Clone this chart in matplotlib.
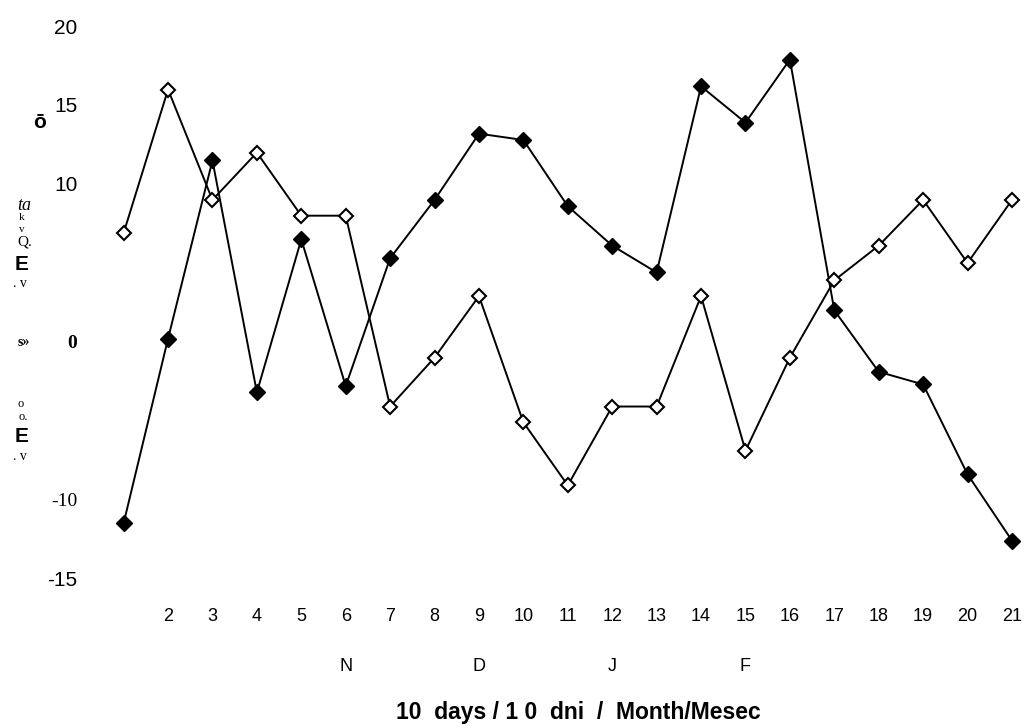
import numpy as np
from matplotlib import pyplot as plt
from matplotlib.transforms import offset_copy

days = list(range(1, 22))
open_vals = [7.0, 16.1, 9.1, 12.1, 8.1, 8.1, -4.0, -0.9, 3.0, -5.0, -9.0,
             -4.0, -4.0, 3.0, -6.8, -0.9, 4.0, 6.2, 9.1, 5.1, 9.1]
filled_vals = [-11.4, 0.3, 11.6, -3.1, 6.6, -2.7, 5.4, 9.1, 13.3, 12.9, 8.7,
               6.2, 4.5, 16.3, 14.0, 18.0, 2.1, -1.8, -2.6, -8.3, -12.5]
xtick_labels = [str(d) for d in days[1:]]
ytick_vals = [20, 15, 10, 0, -10, -15]
ytick_labels = ['20', '15', '10', '0', '-10', '-15']
months = ['N', 'D', 'J', 'F']
month_pos = [6, 9, 12, 15]

W, H = 1030, 726


def px(x, y):
    return x / W, 1 - y / H


fig = plt.figure(figsize=(W / 100, H / 100), dpi=100)
ax = fig.add_axes([110.3 / W, 1 - 580 / H, 915 / W, 552 / H])

ax.plot(days, filled_vals, color='black', lw=1.4, marker='D', ms=8,
        mfc='black', mec='black', clip_on=False, zorder=3)
ax.plot(days, open_vals, color='black', lw=1.4, marker='D', ms=7.5,
        mfc='white', mec='black', mew=1.5, clip_on=False, zorder=4)

ax.set_xlim(0.7, 21.3)
ax.set_ylim(-15, 20)
for s in ax.spines.values():
    s.set_visible(False)
ax.tick_params(length=0)
ax.set_xticks(days[1:])
ax.set_xticklabels(xtick_labels, fontsize=13, family='Liberation Sans')
ax.tick_params(axis='x', pad=20)
ax.set_yticks([])

# y tick labels (mixed fonts, as in the scan)
ytr = offset_copy(ax.get_yaxis_transform(), fig=fig, x=-33, y=0, units='dots')
for val, txt in zip(ytick_vals, ytick_labels):
    serif = val in (0, -10)
    ax.text(0, val, txt, transform=ytr,
            fontsize=14 if serif else 15,
            family='Liberation Serif' if serif else 'Liberation Sans',
            weight='bold' if val == 0 else 'normal',
            ha='right', va='center')

for m, p in zip(months, month_pos):
    ax.text(p, -20.5, m, fontsize=13, family='Liberation Sans',
            ha='center', va='center')

# garbled rotated axis label pieces from the source
bits = [(40, 122, 'ō', 'Liberation Sans', 'bold', 'normal', 15),
        (24, 205, 'ta', 'Liberation Serif', 'normal', 'italic', 13),
        (22, 218, 'k', 'Liberation Serif', 'normal', 'normal', 8),
        (22, 229, 'v', 'Liberation Serif', 'normal', 'normal', 8),
        (25, 242, 'Q.', 'Liberation Serif', 'normal', 'normal', 11),
        (22, 264, 'E', 'Liberation Sans', 'bold', 'normal', 15),
        (20, 284, '. v', 'Liberation Serif', 'normal', 'normal', 10),
        (24, 343, 's»', 'Liberation Serif', 'bold', 'normal', 10),
        (21, 404, 'o', 'Liberation Serif', 'normal', 'normal', 9),
        (23, 417, 'o.', 'Liberation Serif', 'normal', 'normal', 9),
        (22, 436, 'E', 'Liberation Sans', 'bold', 'normal', 15),
        (20, 457, '. v', 'Liberation Serif', 'normal', 'normal', 10)]
for x, y, t, fam, wt, st, fs in bits:
    fig.text(*px(x, y), t, family=fam, weight=wt, style=st, fontsize=fs,
             ha='center', va='center')

fig.text(*px(578, 712), '10  days / 1 0  dni  /  Month/Mesec',
         family='Liberation Sans', weight='bold', fontsize=16.5,
         ha='center', va='center')

fig.savefig('out.png', dpi=100)
